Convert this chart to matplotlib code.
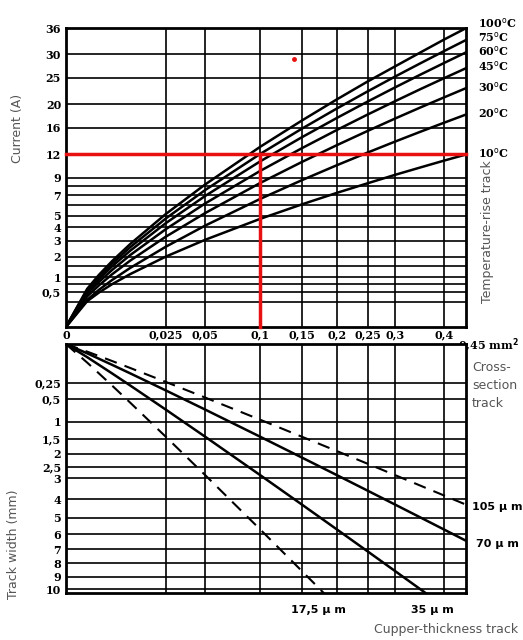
import numpy as np
import matplotlib
matplotlib.use("Agg")
import matplotlib.pyplot as plt

# ---- data ----
xs_ticks = [0, 0.025, 0.05, 0.1, 0.15, 0.2, 0.25, 0.3, 0.4, 0.45]
xs_labels = ["0", "0,025", "0,05", "0,1", "0,15", "0,2", "0,25", "0,3", "0,4", ""]

cur_ticks = [36, 30, 25, 20, 16, 12, 9, 7, 5, 4, 3, 2, 1, 0.5]
cur_labels = ["36", "30", "25", "20", "16", "12", "9", "7", "5", "4", "3", "2", "1", "0,5"]
cur_grid = [36, 30, 25, 20, 16, 12, 9, 8, 7, 6, 5, 4, 3, 2, 1.5, 1, 0.75, 0.5, 0.25]

area = [0, 0.001, 0.0025, 0.005, 0.01, 0.025, 0.05, 0.1, 0.15, 0.2, 0.25, 0.3, 0.35, 0.4, 0.45]
temps = ["100", "75", "60", "45", "30", "20", "10"]
currents = {
    "100": [0, 0.59, 1.10, 1.75, 2.78, 5.15, 8.2, 13.1, 17.2, 20.9, 24.3, 27.4, 30.4, 33.3, 36.0],
    "75":  [0, 0.55, 1.01, 1.62, 2.57, 4.75, 7.57, 12.08, 15.87, 19.26, 22.38, 25.3, 28.05, 30.68, 33.2],
    "60":  [0, 0.50, 0.93, 1.48, 2.35, 4.35, 6.93, 11.07, 14.53, 17.63, 20.49, 23.16, 25.69, 28.09, 30.4],
    "45":  [0, 0.45, 0.82, 1.31, 2.09, 3.86, 6.16, 9.83, 12.9, 15.66, 18.2, 20.57, 22.82, 24.95, 27.0],
    "30":  [0, 0.38, 0.70, 1.12, 1.78, 3.29, 5.24, 8.37, 10.99, 13.34, 15.5, 17.53, 19.44, 21.25, 23.0],
    "20":  [0, 0.30, 0.56, 0.89, 1.41, 2.60, 4.15, 6.62, 8.70, 10.56, 12.27, 13.87, 15.38, 16.82, 18.2],
    "10":  [0, 0.27, 0.48, 0.74, 1.13, 2.0, 3.07, 4.72, 6.07, 7.26, 8.33, 9.34, 10.27, 11.16, 12.0],
}

w_ticks = [0.25, 0.5, 1, 1.5, 2, 2.5, 3, 4, 5, 6, 7, 8, 9, 10]
w_labels = ["0,25", "0,5", "1", "1,5", "2", "2,5", "3", "4", "5", "6", "7", "8", "9", "10"]
thick_um = [17.5, 35, 70, 105]
thick_labels = ["17,5 µ m", "35 µ m", "70 µ m", "105 µ m"]
thick_styles = ["--", "-", "-", "--"]

# ---- scales ----
QX = 0.48
def fx(v):
    return np.clip(np.asarray(v, float), 0, None) ** QX
def fxi(p):
    return np.clip(np.asarray(p, float), 0, None) ** (1 / QX)
def fs(v):
    return np.sqrt(np.clip(np.asarray(v, float), 0, None))
def fsi(p):
    return np.asarray(p, float) ** 2

fig = plt.figure(figsize=(5.23, 6.4), dpi=100)
ax1 = fig.add_axes([0.126, 0.489, 0.765, 0.467])
ax2 = fig.add_axes([0.126, 0.0734, 0.765, 0.389])
tick_font = dict(family="DejaVu Serif", weight="bold", size=8)

for ax in (ax1, ax2):
    ax.set_xscale("function", functions=(fx, fxi))
    ax.set_yscale("function", functions=(fs, fsi))
    ax.set_xlim(0, 0.45)
    for v in xs_ticks[1:-1]:
        ax.axvline(v, color="black", lw=1.2)
    for s in ax.spines.values():
        s.set_linewidth(2)
    ax.tick_params(length=0)

# top panel
ax1.set_ylim(0, 36)
for v in cur_grid:
    ax1.axhline(v, color="black", lw=1.2)
for t in temps:
    ax1.plot(area, currents[t], color="black", lw=1.8)
ax1.set_yticks(cur_ticks)
ax1.set_yticklabels(cur_labels, **tick_font)
ax1.set_xticks(xs_ticks)
ax1.set_xticklabels(xs_labels, **tick_font)
ax1.tick_params(axis="x", pad=2)
ax1.text(0.98, -0.03, "0,45 mm$^{\\mathbf{2}}$", transform=ax1.transAxes, ha="left", va="top",
         **tick_font)
ax1.plot([0, 0.45], [12, 12], color="#e81010", lw=2.5, clip_on=False, zorder=5)
ax1.plot([0.1, 0.1], [12, -0.25], color="#e81010", lw=2.5, clip_on=False, zorder=5)
ax1.plot([0.14], [28.9], "o", color="#e81010", ms=2.5)
label_y = [1.017, 0.97, 0.923, 0.873, 0.803, 0.716, 0.582]
for t, yy in zip(temps, label_y):
    ax1.text(1.03, yy, t + "$^{\\rm o}$C", fontsize=8,
             family="DejaVu Serif", weight="bold", va="center", ha="left",
             transform=ax1.transAxes, clip_on=False)
ax1.text(1.055, 0.32, "Temperature-rise track", rotation=90, transform=ax1.transAxes,
         color="#555555", fontsize=9, ha="center", va="center")
fig.text(0.033, 0.80, "Current (A)", rotation=90, color="#555555", fontsize=9,
         ha="center", va="center")

# bottom panel
ax2.set_ylim(10.3, 0)
for v in w_ticks:
    ax2.axhline(v, color="black", lw=1.2)
ax2.set_yticks(w_ticks)
ax2.set_yticklabels(w_labels, **tick_font)
ax2.set_xticks([])
fig.text(0.025, 0.15, "Track width (mm)", rotation=90, color="#555555", fontsize=9,
         ha="center", va="center")
a = np.array([0, 0.001, 0.005, 0.01, 0.025, 0.05, 0.1, 0.15, 0.2, 0.25, 0.3, 0.35, 0.4, 0.45])
for t, st in zip(thick_um, thick_styles):
    w = a / (t / 1000.0)
    if st == "--":
        ax2.plot(a, w, color="black", lw=1.5, ls=(0, (6, 4)))
    else:
        ax2.plot(a, w, color="black", lw=1.8)
ax2.text(1.015, 0.93, "Cross-\nsection\ntrack", transform=ax2.transAxes, color="#555555",
         fontsize=9, ha="left", va="top", linespacing=1.5)
ax2.text(1.015, 0.345, thick_labels[3], transform=ax2.transAxes, fontsize=8,
         family="DejaVu Sans", weight="bold", va="center")
ax2.text(1.025, 0.197, thick_labels[2], transform=ax2.transAxes, fontsize=8,
         family="DejaVu Sans", weight="bold", va="center")
ax2.text(0.63, -0.07, thick_labels[0], transform=ax2.transAxes, fontsize=8,
         family="DejaVu Sans", weight="bold", ha="center", va="center")
ax2.text(0.915, -0.07, thick_labels[1], transform=ax2.transAxes, fontsize=8,
         family="DejaVu Sans", weight="bold", ha="center", va="center")
ax2.text(0.95, -0.145, "Cupper-thickness track", transform=ax2.transAxes, color="#555555",
         fontsize=9, ha="center", va="center")

fig.savefig("out.png", dpi=100)
